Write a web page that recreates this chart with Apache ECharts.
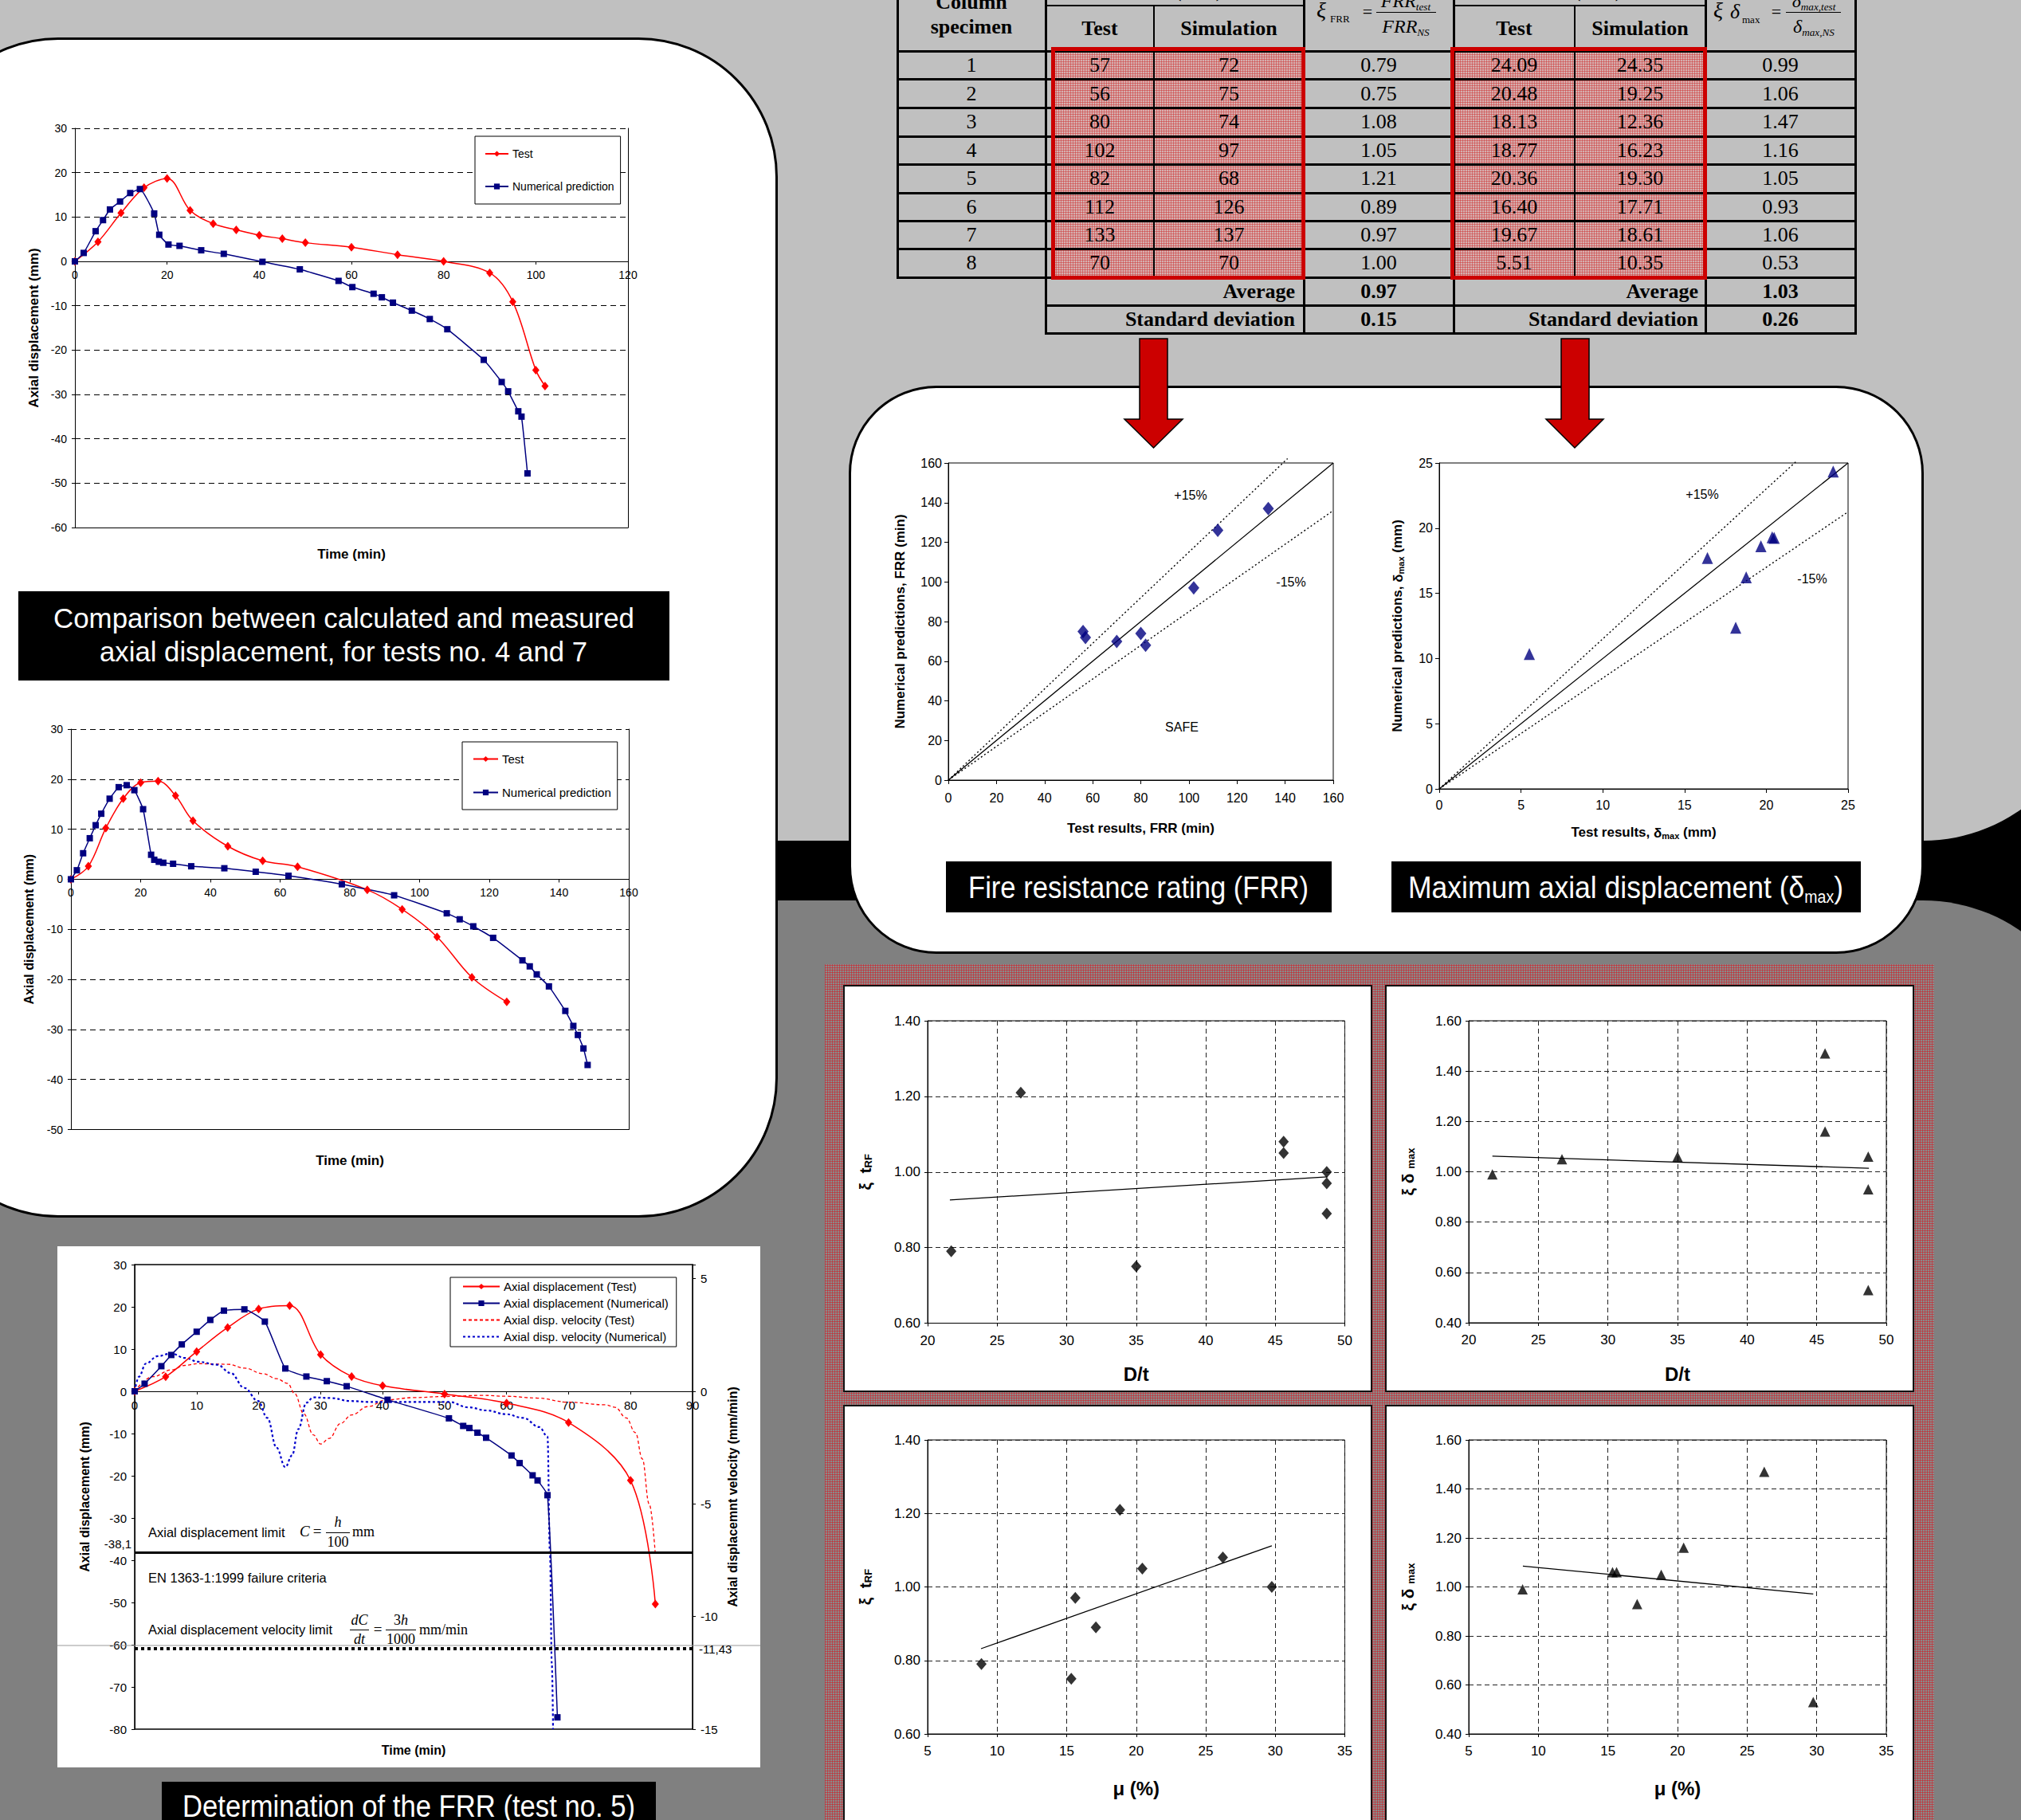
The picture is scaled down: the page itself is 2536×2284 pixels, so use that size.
<!DOCTYPE html>
<html>
<head>
<meta charset="utf-8">
<title>Numerical vs experimental fire tests of columns</title>
<script src="https://cdn.jsdelivr.net/npm/echarts@6/dist/echarts.min.js"></script>
<style>
html,body{margin:0;padding:0}
body{position:relative;width:2536px;height:2284px;overflow:hidden;background:#000;font-family:"Liberation Sans",Arial,sans-serif}
.a{position:absolute;box-sizing:border-box}
#chart{position:absolute;left:0;top:0;width:2536px;height:2284px;z-index:2}
.hatch{background-color:#8a8a8a;background-image:repeating-linear-gradient(90deg,rgba(215,20,30,.5) 0 1px,transparent 1px 3px),repeating-linear-gradient(0deg,rgba(215,20,30,.5) 0 1px,transparent 1px 3px)}
.thatch{background-color:#d6b0b0;background-image:repeating-linear-gradient(90deg,rgba(205,40,40,.45) 0 1px,transparent 1px 3px),repeating-linear-gradient(0deg,rgba(205,40,40,.45) 0 1px,transparent 1px 3px)}
.t{position:absolute;white-space:nowrap}
.ln{position:absolute;background:#000;z-index:4}
.box{position:absolute;background:#000;z-index:3}
.sb{font-size:0.55em;vertical-align:-0.3em;line-height:0}
</style>
</head>
<body>
<!-- background layers -->
<div class="a" style="left:-60px;top:-300px;width:2685px;height:1355px;border-radius:212px;background:#c0c0c0"></div>
<div class="a" style="left:-60px;top:1130px;width:2688px;height:1400px;border-radius:215px;background:#808080"></div>
<div class="a" style="left:-102px;top:47px;width:1078px;height:1481px;border:3px solid #000;border-radius:175px;background:#fff"></div>
<div class="a" style="left:1065px;top:484px;width:1349px;height:713px;border:3px solid #000;border-radius:110px;background:#fff"></div>
<div class="a" style="left:72px;top:1564px;width:882px;height:654px;background:#fff"></div>
<div class="a hatch" style="left:1035px;top:1210px;width:1392px;height:1100px"></div>
<div class="a" style="left:1058px;top:1236px;width:664px;height:511px;border:2px solid #111;background:#fff"></div>
<div class="a" style="left:1738px;top:1236px;width:664px;height:511px;border:2px solid #111;background:#fff"></div>
<div class="a" style="left:1058px;top:1763px;width:664px;height:600px;border:2px solid #111;background:#fff"></div>
<div class="a" style="left:1738px;top:1763px;width:664px;height:600px;border:2px solid #111;background:#fff"></div>
<!-- caption boxes -->
<div class="box" style="left:23px;top:742px;width:817px;height:112px"></div>
<div class="box" style="left:1187px;top:1081px;width:484px;height:64px"></div>
<div class="box" style="left:1746px;top:1081px;width:589px;height:64px"></div>
<div class="box" style="left:203px;top:2236px;width:620px;height:80px"></div>
<!-- table highlight -->
<div class="a thatch" style="left:1319px;top:59px;width:319px;height:292px;z-index:3"></div>
<div class="a thatch" style="left:1820px;top:59px;width:322px;height:292px;z-index:3"></div>
<div class="a" style="left:1319px;top:59px;width:319px;height:292px;border:5px solid #cc0000;z-index:5"></div>
<div class="a" style="left:1820px;top:59px;width:322px;height:292px;border:5px solid #cc0000;z-index:5"></div>
<div id="chart"></div>
<script>
// ======================= DATA =======================
// Test no. 4 (top-left chart)
const test4Time = [0,5,10,15,20,25,30,35,40,45,50,60,70,80,90,95,100,102];
const test4Disp = [0,4.4,10.9,16.6,18.7,11.5,8.5,7.1,5.9,5.1,4.2,3.2,1.5,0,-2.6,-9.1,-24.5,-28.1];
const num4Time = [0,1.9,4.5,6.1,7.6,9.8,12.0,14.1,17.2,18.3,20.3,22.7,27.4,32.3,40.7,48.8,57.2,60.2,64.8,66.6,69.0,73.1,77.0,80.8,88.7,92.6,94.0,96.2,96.9,98.2];
const num4Disp = [0,1.9,6.8,9.3,11.7,13.5,15.4,16.3,10.8,6.0,3.8,3.5,2.5,1.7,-0.1,-1.8,-4.4,-5.8,-7.3,-8.1,-9.3,-11.1,-13.0,-15.3,-22.2,-27.2,-29.3,-33.8,-35.0,-47.8];
// Test no. 7 (middle-left chart)
const test7Time = [0,5,10,15,20,25,30,35,45,55,65,85,95,105,115,125];
const test7Disp = [0,2.6,10.2,16.1,19.3,19.6,16.7,11.7,6.6,3.7,2.5,-2.1,-6.0,-11.5,-19.6,-24.5];
const num7Time = [0,1.7,3.5,5.4,7.1,8.7,11.1,13.7,16.0,18.2,20.7,23.0,23.9,25.2,26.5,29.3,34.5,44.0,53.0,62.4,77.7,92.7,107.8,111.5,115.4,121.1,129.5,131.6,133.6,137.1,141.8,144.1,145.4,147.0,148.2];
const num7Disp = [0,1.8,5.2,8.2,10.8,13.1,16.1,18.4,18.8,17.8,14.0,4.9,3.9,3.5,3.3,3.1,2.6,2.2,1.5,0.7,-1.0,-3.2,-6.8,-8.0,-9.4,-11.7,-16.2,-17.4,-19.0,-21.4,-26.3,-29.3,-31.1,-33.8,-37.1];
// Test no. 5 (FRR determination)
const test5Time = [0,5,10,15,20,25,30,35,40,50,60,70,80,84];
const test5Disp = [0,3.45,9.4,15.1,19.5,20.3,8.7,3.5,1.3,-0.65,-2.8,-7.4,-21.1,-50.4];
const num5Time = [0,1.6,4.3,5.9,7.6,10.0,12.2,14.4,17.7,21.0,24.3,27.7,31.0,34.2,40.8,50.7,53.0,54.0,55.3,56.7,60.8,62.1,64.2,65.0,66.6,68.2];
const num5Disp = [0,1.8,5.95,8.6,11.1,14.1,16.9,19.1,19.4,16.5,5.4,3.5,2.4,1.2,-2.0,-6.4,-8.2,-8.7,-9.8,-11.0,-15.2,-17.0,-19.9,-21.1,-24.6,-77.2];
const velTest5Time = [0,2.95,5.9,8.1,10.3,12.5,15.1,17.7,20.7,22.9,24.7,25.8,27.3,28.8,30.0,31.4,33.2,35.0,37.6,40.6,45.0,50.0,56.1,60.0,64.9,69.9,76.0,77.5,79.3,80.8,81.9,83.0,84.0];
const velTest5 = [0,0.65,0.95,1.15,1.23,1.21,1.2,1.03,0.78,0.56,0.35,-0.1,-1.0,-1.93,-2.34,-2.09,-1.43,-1.05,-0.68,-0.38,-0.28,-0.23,-0.18,-0.22,-0.30,-0.48,-0.6,-0.71,-1.18,-1.84,-3.0,-5.0,-7.24];
const velNum5Time = [0,0.7,1.8,3.7,5.9,8.1,10.3,13.3,15.5,17.7,19.9,21.4,22.9,24.3,25.4,26.4,27.7,28.8,31.7,34.7,37.6,40.8,45.0,50.7,53.8,56.8,59.8,62.7,65.3,66.6,67.0,67.3,67.5];
const velNum5 = [0,0.65,1.23,1.56,1.68,1.48,1.31,1.18,0.81,0.15,-0.43,-1.18,-2.51,-3.37,-2.84,-1.68,-0.51,-0.27,-0.30,-0.43,-0.47,-0.47,-0.47,-0.47,-0.71,-0.85,-1.01,-1.18,-1.59,-2.01,-7.2,-12.1,-15];
const dispLimit = -38.1;
const velLimit = -11.43;
// Table / scatter data
const specimens = [1,2,3,4,5,6,7,8];
const frrTest = [57,56,80,102,82,112,133,70];
const frrSim = [72,75,74,97,68,126,137,70];
const xiFRR = [0.79,0.75,1.08,1.05,1.21,0.89,0.97,1.00];
const dmaxTest = [24.09,20.48,18.13,18.77,20.36,16.40,19.67,5.51];
const dmaxSim = [24.35,19.25,12.36,16.23,19.30,17.71,18.61,10.35];
const xiDmax = [0.99,1.06,1.47,1.16,1.05,0.93,1.06,0.53];
const avgXiFRR = 0.97, sdXiFRR = 0.15, avgXiDmax = 1.03, sdXiDmax = 0.26;
const slendernessDt = [21.7,35.0,45.6,45.6,26.7,48.7,48.7,48.7];
const loadMu = [8.87,15.33,26.23,20.44,18.83,17.1,15.62,29.75];
// reference lines of the scatter charts
const frrRefX = [0,160], frrRefY = [0,160];
const frrPlusX = [0,141], frrPlusY = [0,162.2];
const frrMinusX = [0,160], frrMinusY = [0,136];
const dRefX = [0,25], dRefY = [0,25];
const dPlusX = [0,21.9], dPlusY = [0,25.2];
const dMinusX = [0,25], dMinusY = [0,21.25];
// trend lines
const trendDtFrrX = [21.6,48.75], trendDtFrrY = [0.926,0.987];
const trendDtDX = [21.7,48.75], trendDtDY = [1.062,1.014];
const trendMuFrrX = [8.84,29.75], trendMuFrrY = [0.832,1.112];
const trendMuDX = [8.89,29.75], trendMuDY = [1.085,0.971];
// axis ranges of the time-history charts
const range4 = [-60, 30], range7 = [-50, 30], range5 = [-80, 30];

// ======================= HTML TEXT =======================
const SANS = '"Liberation Sans",Arial,sans-serif';
const SERIF = '"Liberation Serif","Times New Roman",serif';
function put(html, x, base, fs, opt) {
  opt = opt || {};
  const d = document.createElement('div');
  d.className = 't';
  d.innerHTML = html;
  const k = opt.serif ? 0.8375 : 0.8465;
  d.style.fontFamily = opt.serif ? SERIF : SANS;
  d.style.fontSize = fs + 'px';
  d.style.lineHeight = fs + 'px';
  d.style.top = (base - k * fs) + 'px';
  d.style.color = opt.color || '#000';
  d.style.fontWeight = opt.bold ? 'bold' : 'normal';
  d.style.fontStyle = opt.italic ? 'italic' : 'normal';
  d.style.zIndex = opt.z || 6;
  d.style.left = '0px';
  document.body.appendChild(d);
  const w = d.getBoundingClientRect().width;
  let sx = 1;
  if (opt.fitW) sx = opt.fitW / w;
  const al = opt.align || 'left';
  const left = al === 'center' ? x - w * sx / 2 : al === 'right' ? x - w * sx : x;
  d.style.left = left + 'px';
  if (sx !== 1) { d.style.transformOrigin = 'left center'; d.style.transform = 'scaleX(' + sx + ')'; }
  return d;
}
function hl(x, y, w, h) {
  const d = document.createElement('div');
  d.className = 'ln';
  d.style.left = x + 'px'; d.style.top = y + 'px'; d.style.width = w + 'px'; d.style.height = h + 'px';
  document.body.appendChild(d);
}

// table grid
const rowY = [64,99.5,135.5,171,206.5,242,277.5,312.5,348,383,418.5];
[[1126,-5,349.5,3],[1312,-5,420,3],[1448,7,348,1.5],[1636,-5,420,3],[1824,-5,420,3],[1976,7,348,1.5],[2140,-5,420,3],[2328,-5,420,3]]
  .forEach(v => hl(v[0] - v[3] / 2, v[1], v[3], v[2] - v[1]));
hl(1312, 6, 324, 2); hl(1824, 6, 316, 2);
for (let i = 0; i <= 8; i++) hl(1125, rowY[i] - 1.5, 1205, 3);
hl(1311, rowY[9] - 1.5, 1019, 3); hl(1311, rowY[10] - 1.5, 1019, 3);

// header
put('Column', 1219, 12, 26, {serif:true, bold:true, align:'center'});
put('specimen', 1219, 43, 26, {serif:true, bold:true, align:'center'});
put('FRR (min)', 1474, -3, 26, {serif:true, bold:true, align:'center'});
put('δ<span class="sb">max</span> (mm)', 1982, -3, 26, {serif:true, bold:true, align:'center'});
put('Test', 1380, 45, 26, {serif:true, bold:true, align:'center'});
put('Simulation', 1542, 45, 26, {serif:true, bold:true, align:'center'});
put('Test', 1900, 45, 26, {serif:true, bold:true, align:'center'});
put('Simulation', 2058, 45, 26, {serif:true, bold:true, align:'center'});
// ξFRR formula
put('ξ', 1652, 22, 28, {serif:true, italic:true});
put('FRR', 1669, 28, 13, {serif:true});
put('=', 1716, 22, 22, {serif:true, align:'center'});
hl(1727, 14.5, 75, 1.5);
put('<i>FRR</i><span class="sb"><i>test</i></span>', 1764, 9, 24, {serif:true, align:'center'});
put('<i>FRR</i><span class="sb"><i>NS</i></span>', 1764, 41, 24, {serif:true, align:'center'});
// ξδmax formula
put('ξ', 2150, 22, 28, {serif:true, italic:true});
put('δ', 2171, 24, 26, {serif:true, italic:true});
put('max', 2186, 29, 13, {serif:true});
put('=', 2229, 22, 22, {serif:true, align:'center'});
hl(2241, 14.5, 69, 1.5);
put('<i>δ</i><span class="sb"><i>max,test</i></span>', 2276, 9, 24, {serif:true, align:'center'});
put('<i>δ</i><span class="sb"><i>max,NS</i></span>', 2276, 41, 24, {serif:true, align:'center'});
// body rows
const cx = [1219,1380,1542,1730,1900,2058,2234];
for (let i = 0; i < 8; i++) {
  const b = (rowY[i] + rowY[i + 1]) / 2 + 8.8;
  const vals = [String(specimens[i]), String(frrTest[i]), String(frrSim[i]), xiFRR[i].toFixed(2),
                dmaxTest[i].toFixed(2), dmaxSim[i].toFixed(2), xiDmax[i].toFixed(2)];
  vals.forEach((v, c) => put(v, cx[c], b, 26, {serif:true, align:'center'}));
}
const bA = (rowY[8] + rowY[9]) / 2 + 8.8, bS = (rowY[9] + rowY[10]) / 2 + 8.8;
put('Average', 1625, bA, 26, {serif:true, bold:true, align:'right'});
put(avgXiFRR.toFixed(2), 1730, bA, 26, {serif:true, bold:true, align:'center'});
put('Average', 2131, bA, 26, {serif:true, bold:true, align:'right'});
put(avgXiDmax.toFixed(2), 2234, bA, 26, {serif:true, bold:true, align:'center'});
put('Standard deviation', 1625, bS, 26, {serif:true, bold:true, align:'right'});
put(sdXiFRR.toFixed(2), 1730, bS, 26, {serif:true, bold:true, align:'center'});
put('Standard deviation', 2131, bS, 26, {serif:true, bold:true, align:'right'});
put(sdXiDmax.toFixed(2), 2234, bS, 26, {serif:true, bold:true, align:'center'});

// captions
put('Comparison between calculated and measured', 431, 788, 35, {color:'#fff', align:'center', fitW:729});
put('axial displacement, for tests no. 4 and 7', 431, 830, 35, {color:'#fff', align:'center', fitW:612});
put('Fire resistance rating (FRR)', 1428, 1127, 39, {color:'#fff', align:'center', fitW:427});
put('Maximum axial displacement (δ<span class="sb">max</span>)', 2040, 1127, 39, {color:'#fff', align:'center', fitW:546});
put('Determination of the FRR (test no. 5)', 513, 2280, 39, {color:'#fff', align:'center', fitW:568});

// annotations of the FRR determination chart
put('Axial displacement limit', 186, 1929, 16.5, {});
put('C', 376, 1928, 19, {serif:true, italic:true});
put('=', 398, 1928, 19, {serif:true, align:'center'});
put('h', 424, 1916.5, 18, {serif:true, italic:true, align:'center'});
hl(409, 1922.5, 30, 1);
put('100', 424, 1941, 18, {serif:true, align:'center'});
put('mm', 442, 1928, 18, {serif:true});
put('EN 1363-1:1999 failure criteria', 186, 1986, 16.5, {});
put('Axial displacement velocity limit', 186, 2051, 16.5, {});
put('dC', 451, 2039, 18, {serif:true, italic:true, align:'center'});
hl(439, 2044.5, 24, 1);
put('dt', 451, 2063.5, 18, {serif:true, italic:true, align:'center'});
put('=', 474, 2051, 19, {serif:true, align:'center'});
put('3<i>h</i>', 503, 2039, 18, {serif:true, align:'center'});
hl(484, 2044.5, 38, 1);
put('1000', 503, 2063.5, 18, {serif:true, align:'center'});
put('mm/min', 526, 2051, 18, {serif:true});

// ======================= ECHARTS =======================
const F = 'Liberation Sans';
const pairs = (xs, ys) => xs.map((x, i) => [x, ys[i]]);
const NAV = '#000080', RED = '#ff0000';
const nameStyle = (fs) => ({fontSize:fs, fontWeight:'bold', color:'#000', fontFamily:F});

const grids = [
  {left:94, top:161, width:694, height:501},              // 0 test 4
  {left:89, top:915, width:700, height:502.5},            // 1 test 7
  {left:169, top:1587, width:700, height:583, show:true, borderColor:'#000', borderWidth:1.5, backgroundColor:'transparent'}, // 2 test 5
  {left:1190, top:581, width:483, height:398, show:true, borderColor:'#000', borderWidth:1, backgroundColor:'transparent'},   // 3 FRR
  {left:1806, top:581, width:513, height:409, show:true, borderColor:'#000', borderWidth:1, backgroundColor:'transparent'},   // 4 dmax
  {left:1164, top:1281, width:523.5, height:379.5, show:true, borderColor:'#000', borderWidth:1, backgroundColor:'transparent'}, // 5
  {left:1843, top:1281, width:524, height:379, show:true, borderColor:'#000', borderWidth:1, backgroundColor:'transparent'},  // 6
  {left:1164, top:1807, width:523.5, height:369, show:true, borderColor:'#000', borderWidth:1, backgroundColor:'transparent'},  // 7
  {left:1843, top:1807, width:524, height:369, show:true, borderColor:'#000', borderWidth:1, backgroundColor:'transparent'},    // 8
  {left:94, top:161, width:694, height:501},              // 9 border of test 4
  {left:89, top:915, width:700, height:502.5}             // 10 border of test 7
];
grids.forEach(g => { g.outerBoundsMode = 'none'; g.containLabel = false; });
// the time axis sits on the zero displacement line: offset from the bottom edge of the grid
const zeroOffset = (g, r) => -grids[g].height * (0 - r[0]) / (r[1] - r[0]);

const xAxis = [], yAxis = [];
function axis(o) {
  const base = {
    type:'value',
    nameMoveOverlap:false,
    axisLine:{show:true, onZero:false, lineStyle:{color:'#000', width:1}},
    axisTick:{show:true, length:4, lineStyle:{color:'#000'}},
    axisLabel:{show:true, color:'#000', fontFamily:F, fontSize:14, margin:8},
    splitLine:{show:false}
  };
  const r = Object.assign({}, base, o);
  ['axisLine','axisTick','axisLabel','splitLine'].forEach(k => { if (o[k]) r[k] = Object.assign({}, base[k], o[k]); });
  return r;
}
const addX = o => (xAxis.push(axis(o)), xAxis.length - 1);
const addY = o => (yAxis.push(axis(o)), yAxis.length - 1);
const dash1 = {show:true, lineStyle:{color:'#000', type:[7,5], width:1}};
const dash2 = {show:true, lineStyle:{color:'#222', type:[6,4], width:1}};
const hiddenAxisParts = {axisTick:{show:false}, axisLabel:{show:false}};

// chart test 4
const x4 = addX({gridIndex:0, position:'bottom', offset:zeroOffset(0, range4), min:0, max:120, interval:20, axisLabel:{fontSize:14, margin:10}});
const y4 = addY({gridIndex:0, min:range4[0], max:range4[1], interval:10, splitLine:dash1, axisLabel:{fontSize:14, margin:10},
  name:'Axial displacement (mm)', nameLocation:'middle', nameGap:43, nameTextStyle:nameStyle(17)});
addX(Object.assign({gridIndex:9, position:'bottom', min:0, max:120, name:'Time (min)', nameLocation:'middle', nameGap:25, nameTextStyle:nameStyle(17)}, hiddenAxisParts));
addY(Object.assign({gridIndex:9, position:'right', min:0, max:1}, hiddenAxisParts));
// chart test 7
const x7 = addX({gridIndex:1, position:'bottom', offset:zeroOffset(1, range7), min:0, max:160, interval:20, axisLabel:{fontSize:14, margin:10}});
const y7 = addY({gridIndex:1, min:range7[0], max:range7[1], interval:10, splitLine:dash1, axisLabel:{fontSize:14, margin:10},
  name:'Axial displacement (mm)', nameLocation:'middle', nameGap:45, nameTextStyle:nameStyle(16)});
addX(Object.assign({gridIndex:10, position:'bottom', min:0, max:160, name:'Time (min)', nameLocation:'middle', nameGap:30, nameTextStyle:nameStyle(17)}, hiddenAxisParts));
addY(Object.assign({gridIndex:10, position:'right', min:0, max:1}, hiddenAxisParts));
// chart test 5
const off5 = zeroOffset(2, range5);
const x5 = addX({gridIndex:2, position:'bottom', offset:off5, min:0, max:90, interval:10, axisLabel:{fontSize:15, margin:10},
  name:'Time (min)', nameLocation:'middle', nameGap:18 - off5, nameTextStyle:nameStyle(16)});
const y5 = addY({gridIndex:2, min:range5[0], max:range5[1], interval:10, axisLabel:{fontSize:15, margin:10},
  name:'Axial displacement (mm)', nameLocation:'middle', nameGap:55, nameTextStyle:nameStyle(16)});
const y5v = addY({gridIndex:2, position:'right', min:-15, max:5.625, interval:5,
  axisLabel:{fontSize:15, margin:10, formatter: v => (Math.abs(v % 5) < 1e-6 ? String(v) : '')},
  name:'Axial displacemnt velocity (mm/min)', nameLocation:'middle', nameGap:42, nameRotate:90, nameTextStyle:nameStyle(16)});
// FRR scatter
const xF = addX({gridIndex:3, min:0, max:160, interval:20, axisTick:{length:5}, axisLabel:{fontSize:16, margin:14},
  name:'Test results, FRR (min)', nameLocation:'middle', nameGap:52, nameTextStyle:nameStyle(17)});
const yF = addY({gridIndex:3, min:0, max:160, interval:20, axisTick:{length:5}, axisLabel:{fontSize:16, margin:8},
  name:'Numerical predictions, FRR (min)', nameLocation:'middle', nameGap:52, nameTextStyle:nameStyle(17)});
// dmax scatter
const richD = {d:{fontSize:17, fontWeight:'bold', fontFamily:F, lineHeight:20, verticalAlign:'bottom'},
               s:{fontSize:11, fontWeight:'bold', fontFamily:F, lineHeight:20, verticalAlign:'bottom'}};
const xD = addX({gridIndex:4, min:0, max:25, interval:5, axisTick:{length:5}, axisLabel:{fontSize:16, margin:12},
  name:'Test results, {d|δ}{s|max} (mm)', nameLocation:'middle', nameGap:44, nameTextStyle:Object.assign(nameStyle(17), {rich:richD, lineHeight:20})});
const yD = addY({gridIndex:4, min:0, max:25, interval:5, axisTick:{length:5}, axisLabel:{fontSize:16, margin:8},
  name:'Numerical predictions, {d|δ}{s|max} (mm)', nameLocation:'middle', nameGap:43, nameTextStyle:Object.assign(nameStyle(17), {rich:richD, lineHeight:20})});
// four parametric charts
const richXi = {a:{fontSize:21, fontWeight:'bold', fontFamily:F, lineHeight:24, verticalAlign:'bottom'},
                c:{fontSize:13, fontWeight:'bold', fontFamily:F, lineHeight:24, verticalAlign:'bottom'}};
const fmt2 = v => v.toFixed(2);
function paramAxes(g, xmin, xmax, xname, ymin, ymax, yname, gapY) {
  const xi = addX({gridIndex:g, min:xmin, max:xmax, interval:5, splitLine:dash2, axisLabel:{fontSize:17, margin:13},
    name:xname, nameLocation:'middle', nameGap:xname === 'D/t' ? 52 : 56, nameTextStyle:nameStyle(24)});
  const yi = addY({gridIndex:g, min:ymin, max:ymax, interval:0.2, splitLine:dash2, axisLabel:{fontSize:17, margin:9, formatter:fmt2},
    name:yname, nameLocation:'middle', nameGap:gapY, nameTextStyle:Object.assign(nameStyle(21), {rich:richXi})});
  return [xi, yi];
}
const nXiF = '{a|ξ  t}{c|RF}', nXiD = '{a|ξ δ }{c|max}';
const aTL = paramAxes(5, 20, 50, 'D/t', 0.6, 1.4, nXiF, 68);
const aTR = paramAxes(6, 20, 50, 'D/t', 0.4, 1.6, nXiD, 66);
const aBL = paramAxes(7, 5, 35, 'μ (%)', 0.6, 1.4, nXiF, 68);
const aBR = paramAxes(8, 5, 35, 'μ (%)', 0.4, 1.6, nXiD, 66);

function lineS(name, xi, yi, xs, ys, color, symbol, size, smooth) {
  return {name, type:'line', xAxisIndex:xi, yAxisIndex:yi, data:pairs(xs, ys), smooth, symbol, symbolSize:size,
    showAllSymbol:true, lineStyle:{color, width:1.5}, itemStyle:{color}, z:4};
}
const blackLine = (xi, yi, xs, ys, type, clip) => ({type:'line', xAxisIndex:xi, yAxisIndex:yi, data:pairs(xs, ys), symbol:'none',
  clip: clip !== false, lineStyle:{color:'#000', width:type === 'solid' ? 1.3 : 1.4, type}, silent:true, z:3});
const scat = (xi, yi, xs, ys, symbol, size, color) => ({type:'scatter', xAxisIndex:xi, yAxisIndex:yi, data:pairs(xs, ys),
  symbol, symbolSize:size, itemStyle:{color}, z:5});

const series = [
  lineS('Test', x4, y4, test4Time, test4Disp, RED, 'diamond', [9,11], 0.35),
  lineS('Numerical prediction', x4, y4, num4Time, num4Disp, NAV, 'rect', 8, 0.15),
  lineS('Test', x7, y7, test7Time, test7Disp, RED, 'diamond', [9,11], 0.35),
  lineS('Numerical prediction', x7, y7, num7Time, num7Disp, NAV, 'rect', 8, 0.15),
  lineS('Axial displacement (Test)', x5, y5, test5Time, test5Disp, RED, 'diamond', [9,11], 0.35),
  Object.assign(lineS('Axial displacement (Numerical)', x5, y5, num5Time, num5Disp, NAV, 'rect', 8, 0.15), {
    markLine:{silent:true, symbol:['none','none'], data:[{yAxis:dispLimit}], lineStyle:{color:'#000', width:3, type:'solid'},
      label:{show:true, position:'start', formatter:'-38,1\n ', lineHeight:20, color:'#000', fontSize:15, fontFamily:F, distance:4}}}),
  {name:'Axial disp. velocity (Test)', type:'line', xAxisIndex:x5, yAxisIndex:y5v, data:pairs(velTest5Time, velTest5),
    smooth:0.4, smoothMonotone:'x', symbol:'none', lineStyle:{color:RED, width:1.3, type:[4,3]}, itemStyle:{color:RED}, z:3},
  {name:'Axial disp. velocity (Numerical)', type:'line', xAxisIndex:x5, yAxisIndex:y5v, data:pairs(velNum5Time, velNum5),
    smooth:0.4, smoothMonotone:'x', symbol:'none', lineStyle:{color:'#0000cc', width:2.2, type:[3,3]}, itemStyle:{color:'#0000cc'}, z:3,
    markLine:{silent:true, symbol:['none','none'], data:[{yAxis:velLimit}], lineStyle:{color:'#000', width:4, type:[4,4]},
      label:{show:true, position:'end', formatter:'-11,43', color:'#000', fontSize:15, fontFamily:F, distance:8}}},
  // FRR comparison
  blackLine(xF, yF, frrRefX, frrRefY, 'solid'),
  blackLine(xF, yF, frrPlusX, frrPlusY, [2,3], false),
  blackLine(xF, yF, frrMinusX, frrMinusY, [2,3]),
  scat(xF, yF, frrTest, frrSim, 'diamond', [14,17], NAV),
  // dmax comparison
  blackLine(xD, yD, dRefX, dRefY, 'solid'),
  blackLine(xD, yD, dPlusX, dPlusY, [2,3], false),
  blackLine(xD, yD, dMinusX, dMinusY, [2,3]),
  scat(xD, yD, dmaxTest, dmaxSim, 'triangle', [14,15], NAV),
  // parametric
  scat(aTL[0], aTL[1], slendernessDt, xiFRR, 'diamond', [13,15], '#000'),
  blackLine(aTL[0], aTL[1], trendDtFrrX, trendDtFrrY, 'solid'),
  scat(aTR[0], aTR[1], slendernessDt, xiDmax, 'triangle', [13,13], '#000'),
  blackLine(aTR[0], aTR[1], trendDtDX, trendDtDY, 'solid'),
  scat(aBL[0], aBL[1], loadMu, xiFRR, 'diamond', [13,15], '#000'),
  blackLine(aBL[0], aBL[1], trendMuFrrX, trendMuFrrY, 'solid'),
  scat(aBR[0], aBR[1], loadMu, xiDmax, 'triangle', [13,13], '#000'),
  blackLine(aBR[0], aBR[1], trendMuDX, trendMuDY, 'solid')
];

const legendBase = {show:true, selectedMode:false, orient:'vertical', borderColor:'#000', borderWidth:1, borderRadius:0,
  backgroundColor:'#fff', textStyle:{color:'#000', fontFamily:F}};
const noMarker = {opacity:0};
const legends = [
  Object.assign({}, legendBase, {left:596, top:171, padding:[15,8,15,12], itemGap:27, itemWidth:29, itemHeight:9,
    data:['Test','Numerical prediction'], textStyle:{color:'#000', fontFamily:F, fontSize:14}}),
  Object.assign({}, legendBase, {left:580, top:931, padding:[14,8,14,13], itemGap:27, itemWidth:31, itemHeight:9,
    data:['Test','Numerical prediction'], textStyle:{color:'#000', fontFamily:F, fontSize:15}}),
  Object.assign({}, legendBase, {left:565, top:1603, padding:[4,10,5,15], itemGap:6, itemWidth:46, itemHeight:9,
    data:['Axial displacement (Test)','Axial displacement (Numerical)',
          {name:'Axial disp. velocity (Test)', itemStyle:noMarker},
          {name:'Axial disp. velocity (Numerical)', itemStyle:noMarker}],
    textStyle:{color:'#000', fontFamily:F, fontSize:15}})
];

const arrow = (x0, x1, hx0, hx1, tipX) => ({type:'polygon', z:100, silent:true,
  shape:{points:[[x0,425],[x1,425],[x1,526],[hx1,526],[tipX,562],[hx0,526],[x0,526]]},
  style:{fill:'#cc0000', stroke:'#000', lineWidth:1.5}});
const gtext = (text, x, y) => ({type:'text', x, y, z:100, silent:true,
  style:{text, fontSize:16, fontFamily:F, fill:'#000', align:'center', verticalAlign:'middle'}});

const graphic = [
  arrow(1430, 1465, 1411, 1484, 1447.5),
  arrow(1959, 1994, 1940, 2012, 1976),
  {type:'line', silent:true, z:1, shape:{x1:72, y1:2065, x2:954, y2:2065}, style:{stroke:'#999', lineWidth:1}},
  gtext('+15%', 1494, 621), gtext('-15%', 1620, 730), gtext('SAFE', 1483, 912),
  gtext('+15%', 2136, 620), gtext('-15%', 2274, 726)
];

const chart = echarts.init(document.getElementById('chart'), null, {renderer:'svg', width:2536, height:2284});
chart.setOption({
  animation:false,
  backgroundColor:'transparent',
  textStyle:{fontFamily:F},
  grid:grids,
  xAxis, yAxis,
  legend:legends,
  series,
  graphic
});
</script>
</body>
</html>
